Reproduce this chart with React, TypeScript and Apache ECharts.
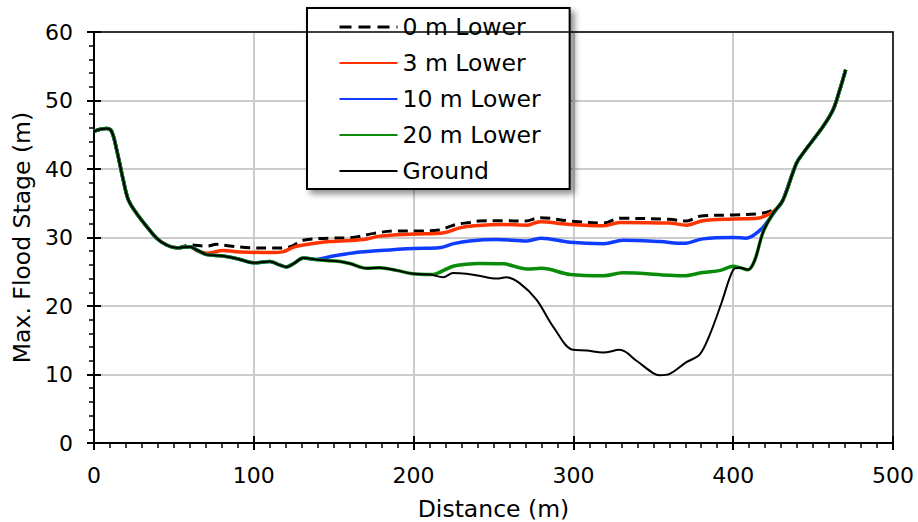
import React, { useEffect, useRef } from "react";
import * as echarts from "echarts";

type P = [number, number];

// Shared upstream left bank (all scenarios coincide with ground)
const leftBank: P[] = [
  [0, 45.5], [4, 45.8], [8, 45.9], [11, 45.5], [14.2, 42.8], [18.3, 38.4], [21.5, 35.5],
  [26.7, 33.5], [33, 31.6], [39.2, 29.9], [45.5, 28.9], [51.7, 28.5],
];
// Ground from 60 to 131 m (ground, 10 m, 20 m coincide)
const lowBank: P[] = [
  [60, 28.65], [64.2, 28.2], [70.5, 27.5], [80.9, 27.3], [91.3, 26.8], [99.6, 26.3],
  [110, 26.5], [116, 26.0], [120.5, 25.7], [125, 26.2], [131, 27.0],
];
// Ground from 141 to 210 m (ground, 20 m coincide)
const midFloor: P[] = [
  [141.4, 26.7], [153.9, 26.5], [160.1, 26.2], [170.6, 25.5], [178.9, 25.6],
  [189.3, 25.2], [199.7, 24.7], [210.2, 24.6],
];
// Ground only: the channel
const groundChannel: P[] = [
  [218.5, 24.2], [224.7, 24.8], [233, 24.7], [241, 24.4], [252, 24.0], [258, 24.2],
  [266.5, 23.3], [277, 20.9], [287.3, 17.0], [299.8, 13.6], [308.2, 13.5], [318.6, 13.2],
  [329, 13.6], [339.5, 12.0], [349.9, 10.2], [354, 9.9], [360.3, 10.1], [370.7, 11.8],
  [379, 12.9], [385.3, 15.8], [392.6, 20.4], [400, 25.3],
];
// Right toe (ground, 20 m coincide)
const rightToe: P[] = [
  [404.1, 25.6], [409.3, 25.3], [413.5, 26.7], [418.7, 30.8], [424.9, 33.5],
];
// Right bank (all coincide)
const rightBank: P[] = [
  [431.2, 35.5], [439.5, 40.8], [443.7, 42.3], [456.2, 46.2], [462.4, 48.6],
  [466.6, 51.5], [470.4, 54.5],
];

const lower0: P[] = [
  [60, 28.9], [70.5, 28.75], [76.7, 29.0], [85.1, 28.75], [97.6, 28.5], [112, 28.45],
  [122, 28.6], [131, 29.6], [148, 29.9], [162, 30.0], [175, 30.6], [189, 30.95],
  [204, 30.95], [216, 31.1], [225, 31.8], [235, 32.2], [241, 32.4], [256, 32.45],
  [270, 32.4], [279, 32.9], [298, 32.4], [319, 32.1], [329, 32.8], [360, 32.65],
  [371, 32.4], [379, 33.1], [400, 33.3], [417, 33.5], [428, 34.4],
];
const lower3: P[] = [
  [60, 28.65], [64.2, 28.1], [70.5, 27.7], [80.9, 28.1], [91.3, 27.9], [112, 27.8],
  [118, 27.9], [125, 28.6], [131, 28.9], [147.5, 29.4], [168.5, 29.7], [179, 30.2],
  [200, 30.5], [219, 30.7], [229, 31.4], [238, 31.7], [256, 31.9], [271, 31.8],
  [279, 32.3], [298, 31.9], [319, 31.7], [329, 32.2], [360, 32.1], [371, 31.8],
  [381, 32.45], [400, 32.7], [415, 32.8], [423, 33.5], [428, 34.4],
];
const lower10: P[] = [
  [139, 26.8], [147.5, 27.2], [164, 27.8], [179, 28.1], [200, 28.4], [216, 28.5],
  [225, 29.1], [235, 29.5], [252, 29.7], [271, 29.5], [280, 29.9], [298, 29.3],
  [319, 29.1], [331, 29.6], [354, 29.4], [369, 29.15], [381, 29.8], [400, 30.0],
  [408, 29.9], [417, 31.1], [423, 32.8], [428, 34.4],
];
const lower20: P[] = [
  [214, 24.7], [224.7, 25.8], [233, 26.1], [241, 26.2], [256, 26.15], [271, 25.4],
  [280, 25.5], [298, 24.6], [319, 24.4], [331, 24.85], [360, 24.5], [369, 24.4],
  [381, 24.9], [392, 25.2], [400, 25.8],
];

const FONT = "DejaVu Sans";

export default function App() {
  const ref = useRef<HTMLDivElement>(null);
  useEffect(() => {
    if (!ref.current) return;
    const chart = echarts.init(ref.current, null, { renderer: "svg" });
    const lineBase = { type: "line", showSymbol: false, symbol: "none", smooth: 0.35 };
    chart.setOption({
      animation: false,
      backgroundColor: "#fff",
      textStyle: { fontFamily: FONT },
      grid: {
        left: 94, right: 25, top: 32, bottom: 79, show: true, borderColor: "#000", borderWidth: 0,
        containLabel: false, outerBoundsMode: "none",
      },
      legend: {
        orient: "vertical",
        left: 307,
        top: 8,
        selectedMode: false,
        backgroundColor: "#fff",
        borderColor: "#000",
        borderWidth: 2,
        borderRadius: 0,
        shadowColor: "rgba(0,0,0,0.45)",
        shadowBlur: 6,
        shadowOffsetX: 4,
        shadowOffsetY: 4,
        padding: [7, 29, 6, 31],
        itemWidth: 58,
        itemHeight: 14,
        itemGap: 12,
        itemStyle: { opacity: 0 },
        textStyle: { fontFamily: FONT, fontSize: 23.5, color: "#000", lineHeight: 24 },
        data: [
          { name: "0 m Lower", lineStyle: { type: [12, 7], width: 3 } },
          "3 m Lower", "10 m Lower", "20 m Lower", "Ground",
        ],
      },
      xAxis: [
        {
          type: "value", min: 0, max: 500, interval: 100, position: "bottom",
          name: "Distance (m)", nameLocation: "middle", nameGap: 54,
          nameTextStyle: { fontFamily: FONT, fontSize: 23.5, color: "#000" },
          axisLine: { show: true, onZero: false, lineStyle: { color: "#000", width: 2 } },
          axisTick: { show: true, length: 7, lineStyle: { color: "#000", width: 2 } },
          minorTick: { show: true, splitNumber: 10, length: 5, lineStyle: { color: "#000", width: 1.5 } },
          axisLabel: { fontFamily: FONT, fontSize: 22, color: "#000", margin: 21 },
          splitLine: { show: true, lineStyle: { color: "#cccccc", width: 2 } },
        },
        {
          type: "value", min: 0, max: 500, interval: 100, position: "bottom",
          axisLine: { show: false },
          axisTick: { show: true, inside: true, length: 7, lineStyle: { color: "#000", width: 2 } },
          axisLabel: { show: false },
          splitLine: { show: false },
        },
        {
          type: "value", min: 0, max: 500, interval: 100, position: "top", z: 5,
          axisLine: { show: true, onZero: false, lineStyle: { color: "#000", width: 1.5 } },
          axisTick: { show: false },
          axisLabel: { show: false },
          splitLine: { show: false },
        },
      ],
      yAxis: [
        {
          type: "value", min: 0, max: 60, interval: 10, position: "left",
          name: "Max. Flood Stage (m)", nameLocation: "middle", nameGap: 53,
          nameTextStyle: { fontFamily: FONT, fontSize: 23.5, color: "#000" },
          axisLine: { show: true, onZero: false, lineStyle: { color: "#000", width: 2 } },
          axisTick: { show: true, length: 7, lineStyle: { color: "#000", width: 2 } },
          minorTick: { show: true, splitNumber: 5, length: 5, lineStyle: { color: "#000", width: 1.5 } },
          axisLabel: { fontFamily: FONT, fontSize: 22, color: "#000", margin: 21 },
          splitLine: { show: true, lineStyle: { color: "#cccccc", width: 2 } },
        },
        {
          type: "value", min: 0, max: 60, interval: 10, position: "left",
          axisLine: { show: false },
          axisTick: { show: true, inside: true, length: 7, lineStyle: { color: "#000", width: 2 } },
          axisLabel: { show: false },
          splitLine: { show: false },
        },
        {
          type: "value", min: 0, max: 60, interval: 10, position: "right", z: 5,
          axisLine: { show: true, onZero: false, lineStyle: { color: "#000", width: 1.5 } },
          axisTick: { show: false },
          axisLabel: { show: false },
          splitLine: { show: false },
        },
      ],
      series: [
        {
          ...lineBase, name: "0 m Lower",
          data: [...leftBank, ...lower0, ...rightBank],
          lineStyle: { color: "#000", width: 3, type: [10, 6] }, itemStyle: { color: "#000" },
        },
        {
          ...lineBase, name: "3 m Lower",
          data: [...leftBank, ...lower3, ...rightBank],
          lineStyle: { color: "#ff3300", width: 3.5 }, itemStyle: { color: "#ff3300" },
        },
        {
          ...lineBase, name: "10 m Lower",
          data: [...leftBank, ...lowBank, ...lower10, ...rightBank],
          lineStyle: { color: "#0f3cff", width: 3.5 }, itemStyle: { color: "#0f3cff" },
        },
        {
          ...lineBase, name: "20 m Lower",
          data: [...leftBank, ...lowBank, ...midFloor, ...lower20, ...rightToe, ...rightBank],
          lineStyle: { color: "#0a8c0a", width: 3.5 }, itemStyle: { color: "#0a8c0a" },
        },
        {
          ...lineBase, name: "Ground",
          data: [...leftBank, ...lowBank, ...midFloor, ...groundChannel, ...rightToe, ...rightBank],
          lineStyle: { color: "#000", width: 2 }, itemStyle: { color: "#000" },
        },
      ],
    });
    return () => chart.dispose();
  }, []);
  return <div ref={ref} style={{ width: 918, height: 522, position: "absolute", left: 0, top: 0 }} />;
}
